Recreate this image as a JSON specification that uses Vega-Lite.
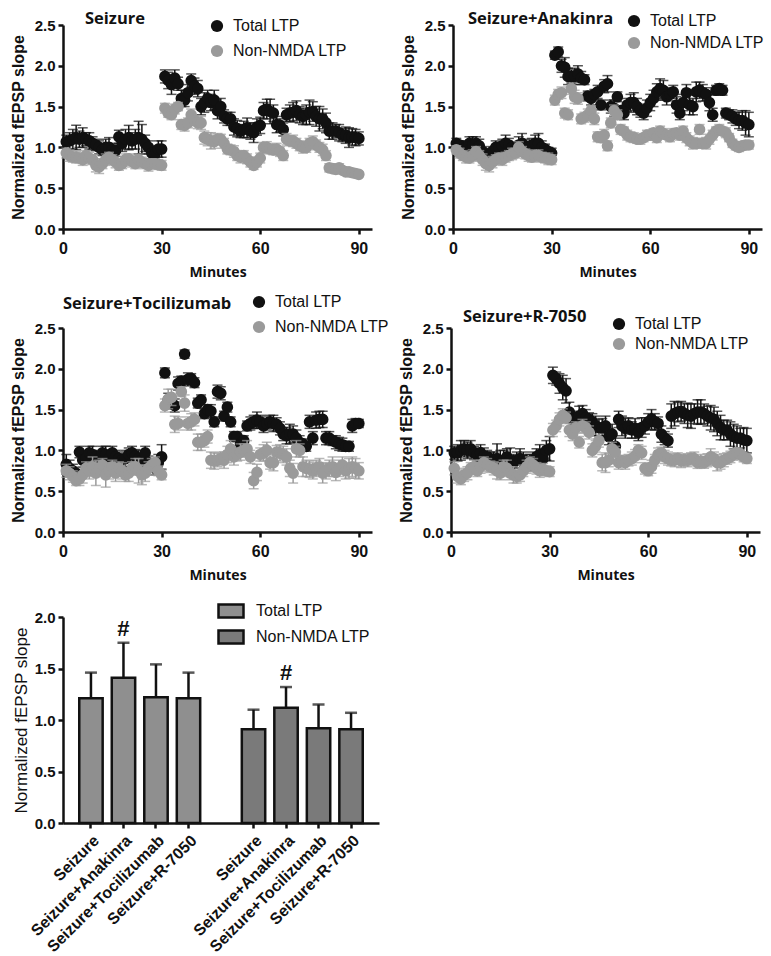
{
"$schema": "https://vega.github.io/schema/vega-lite/v6.json",
"padding": {"left": 10, "top": 10, "right": 0, "bottom": 0},
"background": "white",
"datasets": {
"p1": [
{"m":1,"t":1.07,"te":0.08,"n":0.93,"ne":0.06},{"m":2,"t":1.08,"te":0.10,"n":0.90,"ne":0.07},{"m":3,"t":1.10,"te":0.12,"n":0.88,"ne":0.06},{"m":4,"t":1.12,"te":0.15,"n":0.88,"ne":0.07},{"m":5,"t":1.10,"te":0.10,"n":0.87,"ne":0.06},{"m":6,"t":1.12,"te":0.12,"n":0.85,"ne":0.07},{"m":7,"t":1.10,"te":0.08,"n":0.90,"ne":0.06},{"m":8,"t":1.08,"te":0.10,"n":0.87,"ne":0.07},{"m":9,"t":1.05,"te":0.08,"n":0.85,"ne":0.06},{"m":10,"t":1.03,"te":0.07,"n":0.78,"ne":0.08},
{"m":11,"t":1.00,"te":0.08,"n":0.76,"ne":0.08},{"m":12,"t":0.97,"te":0.07,"n":0.80,"ne":0.06},{"m":13,"t":1.00,"te":0.10,"n":0.85,"ne":0.07},{"m":14,"t":1.00,"te":0.12,"n":0.88,"ne":0.06},{"m":15,"t":0.97,"te":0.08,"n":0.85,"ne":0.06},{"m":16,"t":0.96,"te":0.07,"n":0.82,"ne":0.07},{"m":17,"t":1.13,"te":0.08,"n":0.78,"ne":0.06},{"m":18,"t":1.05,"te":0.10,"n":0.80,"ne":0.06},{"m":19,"t":1.10,"te":0.12,"n":0.85,"ne":0.07},{"m":20,"t":1.12,"te":0.15,"n":0.86,"ne":0.06},
{"m":21,"t":1.08,"te":0.10,"n":0.83,"ne":0.07},{"m":22,"t":1.10,"te":0.12,"n":0.80,"ne":0.06},{"m":23,"t":1.12,"te":0.20,"n":0.85,"ne":0.07},{"m":24,"t":1.10,"te":0.18,"n":0.82,"ne":0.06},{"m":25,"t":1.05,"te":0.10,"n":0.80,"ne":0.06},{"m":26,"t":1.00,"te":0.08,"n":0.78,"ne":0.07},{"m":27,"t":0.93,"te":0.07,"n":0.80,"ne":0.06},{"m":28,"t":0.92,"te":0.08,"n":0.80,"ne":0.06},{"m":29,"t":0.98,"te":0.10,"n":0.79,"ne":0.06},{"m":30,"t":0.98,"te":0.10,"n":0.78,"ne":0.06},
{"m":31,"t":1.87,"te":0.08,"n":1.48,"ne":0.06},{"m":32,"t":1.82,"te":0.10,"n":1.42,"ne":0.05},{"m":33,"t":1.77,"te":0.12,"n":1.40,"ne":0.06},{"m":34,"t":1.85,"te":0.10,"n":1.47,"ne":0.06},{"m":35,"t":1.78,"te":0.08,"n":1.50,"ne":0.05},{"m":36,"t":1.60,"te":0.10,"n":1.28,"ne":0.06},{"m":37,"t":1.58,"te":0.08,"n":1.27,"ne":0.07},{"m":38,"t":1.67,"te":0.10,"n":1.30,"ne":0.06},{"m":39,"t":1.82,"te":0.08,"n":1.40,"ne":0.07},{"m":40,"t":1.75,"te":0.10,"n":1.33,"ne":0.06},
{"m":41,"t":1.72,"te":0.10,"n":1.30,"ne":0.07},{"m":42,"t":1.50,"te":0.10,"n":1.30,"ne":0.08},{"m":43,"t":1.55,"te":0.12,"n":1.12,"ne":0.08},{"m":44,"t":1.60,"te":0.10,"n":1.10,"ne":0.08},{"m":45,"t":1.55,"te":0.10,"n":1.08,"ne":0.10},{"m":46,"t":1.58,"te":0.12,"n":1.07,"ne":0.08},{"m":47,"t":1.45,"te":0.10,"n":1.10,"ne":0.07},{"m":48,"t":1.50,"te":0.10,"n":1.10,"ne":0.06},{"m":49,"t":1.38,"te":0.08,"n":1.05,"ne":0.06},{"m":50,"t":1.35,"te":0.08,"n":0.98,"ne":0.06},
{"m":51,"t":1.35,"te":0.08,"n":0.97,"ne":0.06},{"m":52,"t":1.25,"te":0.10,"n":0.95,"ne":0.07},{"m":53,"t":1.23,"te":0.10,"n":0.90,"ne":0.06},{"m":54,"t":1.20,"te":0.08,"n":0.88,"ne":0.07},{"m":55,"t":1.22,"te":0.10,"n":0.90,"ne":0.06},{"m":56,"t":1.24,"te":0.12,"n":0.86,"ne":0.06},{"m":57,"t":1.20,"te":0.10,"n":0.82,"ne":0.06},{"m":58,"t":1.18,"te":0.12,"n":0.78,"ne":0.05},{"m":59,"t":1.25,"te":0.10,"n":0.82,"ne":0.06},{"m":60,"t":1.27,"te":0.10,"n":0.87,"ne":0.06},
{"m":61,"t":1.45,"te":0.10,"n":1.00,"ne":0.06},{"m":62,"t":1.47,"te":0.12,"n":1.00,"ne":0.07},{"m":63,"t":1.44,"te":0.15,"n":0.98,"ne":0.06},{"m":64,"t":1.42,"te":0.10,"n":0.97,"ne":0.06},{"m":65,"t":1.28,"te":0.10,"n":0.98,"ne":0.07},{"m":66,"t":1.27,"te":0.08,"n":0.95,"ne":0.06},{"m":67,"t":1.22,"te":0.08,"n":0.90,"ne":0.06},{"m":68,"t":1.40,"te":0.08,"n":1.10,"ne":0.07},{"m":69,"t":1.42,"te":0.10,"n":1.08,"ne":0.06},{"m":70,"t":1.43,"te":0.12,"n":1.08,"ne":0.07},
{"m":71,"t":1.45,"te":0.12,"n":1.05,"ne":0.06},{"m":72,"t":1.40,"te":0.10,"n":1.02,"ne":0.06},{"m":73,"t":1.38,"te":0.10,"n":1.00,"ne":0.07},{"m":74,"t":1.40,"te":0.12,"n":1.00,"ne":0.06},{"m":75,"t":1.43,"te":0.15,"n":1.05,"ne":0.06},{"m":76,"t":1.44,"te":0.12,"n":1.07,"ne":0.07},{"m":77,"t":1.38,"te":0.12,"n":1.03,"ne":0.06},{"m":78,"t":1.35,"te":0.15,"n":1.00,"ne":0.06},{"m":79,"t":1.35,"te":0.12,"n":0.97,"ne":0.07},{"m":80,"t":1.30,"te":0.12,"n":0.90,"ne":0.06},
{"m":81,"t":1.20,"te":0.10,"n":0.75,"ne":0.05},{"m":82,"t":1.20,"te":0.10,"n":0.74,"ne":0.05},{"m":83,"t":1.20,"te":0.08,"n":0.73,"ne":0.05},{"m":84,"t":1.18,"te":0.10,"n":0.75,"ne":0.05},{"m":85,"t":1.15,"te":0.08,"n":0.72,"ne":0.04},{"m":86,"t":1.15,"te":0.10,"n":0.70,"ne":0.04},{"m":87,"t":1.12,"te":0.12,"n":0.70,"ne":0.04},{"m":88,"t":1.13,"te":0.10,"n":0.69,"ne":0.04},{"m":89,"t":1.12,"te":0.10,"n":0.68,"ne":0.03},{"m":90,"t":1.11,"te":0.08,"n":0.67,"ne":0.03}
],
"p2": [
{"m":1,"t":1.05,"te":0.06,"n":0.97,"ne":0.05},{"m":2,"t":1.03,"te":0.05,"n":0.93,"ne":0.06},{"m":3,"t":1.00,"te":0.06,"n":0.90,"ne":0.06},{"m":4,"t":1.00,"te":0.08,"n":0.88,"ne":0.07},{"m":5,"t":1.05,"te":0.08,"n":0.87,"ne":0.06},{"m":6,"t":1.03,"te":0.10,"n":0.90,"ne":0.07},{"m":7,"t":1.05,"te":0.08,"n":0.95,"ne":0.06},{"m":8,"t":1.02,"te":0.08,"n":0.90,"ne":0.06},{"m":9,"t":0.95,"te":0.06,"n":0.85,"ne":0.07},{"m":10,"t":0.92,"te":0.06,"n":0.80,"ne":0.08},
{"m":11,"t":0.90,"te":0.05,"n":0.78,"ne":0.08},{"m":12,"t":0.95,"te":0.06,"n":0.82,"ne":0.07},{"m":13,"t":1.00,"te":0.08,"n":0.85,"ne":0.06},{"m":14,"t":1.00,"te":0.06,"n":0.87,"ne":0.06},{"m":15,"t":1.02,"te":0.08,"n":0.85,"ne":0.07},{"m":16,"t":1.05,"te":0.10,"n":0.88,"ne":0.06},{"m":17,"t":1.03,"te":0.08,"n":0.90,"ne":0.06},{"m":18,"t":1.00,"te":0.06,"n":0.92,"ne":0.07},{"m":19,"t":0.98,"te":0.08,"n":0.93,"ne":0.06},{"m":20,"t":1.03,"te":0.10,"n":1.00,"ne":0.07},
{"m":21,"t":1.05,"te":0.12,"n":0.95,"ne":0.06},{"m":22,"t":1.02,"te":0.08,"n":0.92,"ne":0.06},{"m":23,"t":1.00,"te":0.06,"n":0.90,"ne":0.07},{"m":24,"t":1.03,"te":0.08,"n":0.88,"ne":0.06},{"m":25,"t":1.05,"te":0.10,"n":0.90,"ne":0.06},{"m":26,"t":1.05,"te":0.12,"n":0.90,"ne":0.07},{"m":27,"t":1.00,"te":0.08,"n":0.88,"ne":0.06},{"m":28,"t":0.98,"te":0.06,"n":0.87,"ne":0.06},{"m":29,"t":0.95,"te":0.05,"n":0.86,"ne":0.07},{"m":30,"t":0.93,"te":0.06,"n":0.85,"ne":0.06},
{"m":31,"t":2.13,"te":0.05,"n":1.58,"ne":0.06},{"m":32,"t":2.17,"te":0.06,"n":1.65,"ne":0.06},{"m":33,"t":2.00,"te":0.08,"n":1.67,"ne":0.07},{"m":34,"t":1.98,"te":0.12,"n":1.42,"ne":0.06},{"m":35,"t":1.87,"te":0.10,"n":1.40,"ne":0.06},{"m":36,"t":1.87,"te":0.08,"n":1.72,"ne":0.07},{"m":37,"t":1.87,"te":0.10,"n":1.62,"ne":0.08},{"m":38,"t":1.90,"te":0.10,"n":1.60,"ne":0.07},{"m":39,"t":1.85,"te":0.08,"n":1.35,"ne":0.06},{"m":40,"t":1.83,"te":0.06,"n":1.37,"ne":0.06},
{"m":41,"t":1.63,"te":0.06,"n":1.40,"ne":0.07},{"m":42,"t":1.60,"te":0.08,"n":1.45,"ne":0.06},{"m":43,"t":1.65,"te":0.06,"n":1.35,"ne":0.07},{"m":44,"t":1.68,"te":0.08,"n":1.13,"ne":0.06},{"m":45,"t":1.52,"te":0.06,"n":1.12,"ne":0.06},{"m":46,"t":1.75,"te":0.08,"n":1.15,"ne":0.07},{"m":47,"t":1.78,"te":0.10,"n":1.02,"ne":0.06},{"m":48,"t":1.50,"te":0.08,"n":1.30,"ne":0.06},{"m":49,"t":1.48,"te":0.10,"n":1.45,"ne":0.07},{"m":50,"t":1.62,"te":0.06,"n":1.40,"ne":0.06},
{"m":51,"t":1.45,"te":0.06,"n":1.22,"ne":0.06},{"m":52,"t":1.42,"te":0.08,"n":1.20,"ne":0.05},{"m":53,"t":1.52,"te":0.08,"n":1.15,"ne":0.06},{"m":54,"t":1.55,"te":0.10,"n":1.13,"ne":0.06},{"m":55,"t":1.55,"te":0.12,"n":1.12,"ne":0.06},{"m":56,"t":1.50,"te":0.10,"n":1.10,"ne":0.05},{"m":57,"t":1.45,"te":0.08,"n":1.10,"ne":0.06},{"m":58,"t":1.42,"te":0.08,"n":1.12,"ne":0.05},{"m":59,"t":1.48,"te":0.10,"n":1.15,"ne":0.06},{"m":60,"t":1.55,"te":0.10,"n":1.15,"ne":0.06},
{"m":61,"t":1.60,"te":0.10,"n":1.18,"ne":0.05},{"m":62,"t":1.68,"te":0.10,"n":1.12,"ne":0.06},{"m":63,"t":1.72,"te":0.12,"n":1.20,"ne":0.06},{"m":64,"t":1.70,"te":0.12,"n":1.17,"ne":0.06},{"m":65,"t":1.62,"te":0.10,"n":1.15,"ne":0.05},{"m":66,"t":1.65,"te":0.08,"n":1.13,"ne":0.06},{"m":67,"t":1.68,"te":0.08,"n":1.17,"ne":0.06},{"m":68,"t":1.52,"te":0.10,"n":1.18,"ne":0.05},{"m":69,"t":1.42,"te":0.08,"n":1.15,"ne":0.06},{"m":70,"t":1.55,"te":0.10,"n":1.20,"ne":0.06},
{"m":71,"t":1.67,"te":0.10,"n":1.12,"ne":0.06},{"m":72,"t":1.52,"te":0.12,"n":1.08,"ne":0.06},{"m":73,"t":1.50,"te":0.10,"n":1.05,"ne":0.07},{"m":74,"t":1.68,"te":0.12,"n":1.05,"ne":0.06},{"m":75,"t":1.70,"te":0.10,"n":1.22,"ne":0.06},{"m":76,"t":1.67,"te":0.10,"n":1.05,"ne":0.06},{"m":77,"t":1.65,"te":0.08,"n":1.05,"ne":0.07},{"m":78,"t":1.55,"te":0.10,"n":1.10,"ne":0.06},{"m":79,"t":1.40,"te":0.08,"n":1.15,"ne":0.06},{"m":80,"t":1.70,"te":0.06,"n":1.20,"ne":0.05},
{"m":81,"t":1.72,"te":0.06,"n":1.22,"ne":0.06},{"m":82,"t":1.70,"te":0.06,"n":1.20,"ne":0.05},{"m":83,"t":1.42,"te":0.06,"n":1.18,"ne":0.06},{"m":84,"t":1.40,"te":0.06,"n":1.12,"ne":0.05},{"m":85,"t":1.38,"te":0.08,"n":1.05,"ne":0.05},{"m":86,"t":1.35,"te":0.08,"n":1.02,"ne":0.05},{"m":87,"t":1.33,"te":0.10,"n":1.00,"ne":0.05},{"m":88,"t":1.33,"te":0.12,"n":1.02,"ne":0.05},{"m":89,"t":1.30,"te":0.15,"n":1.03,"ne":0.05},{"m":90,"t":1.28,"te":0.15,"n":1.03,"ne":0.05}
],
"p3": [
{"m":1,"t":0.83,"te":0.12,"n":0.75,"ne":0.08},{"m":2,"t":0.78,"te":0.10,"n":0.72,"ne":0.08},{"m":3,"t":0.75,"te":0.08,"n":0.68,"ne":0.07},{"m":4,"t":0.72,"te":0.07,"n":0.63,"ne":0.06},{"m":5,"t":0.98,"te":0.07,"n":0.65,"ne":0.08},{"m":6,"t":0.88,"te":0.08,"n":0.70,"ne":0.10},{"m":7,"t":0.90,"te":0.08,"n":0.78,"ne":0.08},{"m":8,"t":0.97,"te":0.08,"n":0.75,"ne":0.10},{"m":9,"t":0.95,"te":0.10,"n":0.80,"ne":0.12},{"m":10,"t":0.92,"te":0.08,"n":0.72,"ne":0.15},
{"m":11,"t":0.90,"te":0.08,"n":0.78,"ne":0.10},{"m":12,"t":0.97,"te":0.08,"n":0.82,"ne":0.08},{"m":13,"t":0.95,"te":0.10,"n":0.70,"ne":0.15},{"m":14,"t":0.90,"te":0.08,"n":0.75,"ne":0.10},{"m":15,"t":0.97,"te":0.08,"n":0.80,"ne":0.08},{"m":16,"t":0.92,"te":0.08,"n":0.72,"ne":0.10},{"m":17,"t":0.90,"te":0.08,"n":0.78,"ne":0.08},{"m":18,"t":0.88,"te":0.08,"n":0.75,"ne":0.10},{"m":19,"t":0.90,"te":0.10,"n":0.70,"ne":0.08},{"m":20,"t":0.95,"te":0.08,"n":0.72,"ne":0.10},
{"m":21,"t":0.97,"te":0.08,"n":0.78,"ne":0.08},{"m":22,"t":0.93,"te":0.08,"n":0.80,"ne":0.10},{"m":23,"t":0.90,"te":0.10,"n":0.75,"ne":0.15},{"m":24,"t":0.88,"te":0.08,"n":0.70,"ne":0.12},{"m":25,"t":0.97,"te":0.08,"n":0.72,"ne":0.10},{"m":26,"t":0.85,"te":0.08,"n":0.78,"ne":0.08},{"m":27,"t":0.80,"te":0.07,"n":0.82,"ne":0.08},{"m":28,"t":0.78,"te":0.08,"n":0.85,"ne":0.07},{"m":29,"t":0.85,"te":0.10,"n":0.75,"ne":0.06},{"m":30,"t":0.92,"te":0.15,"n":0.70,"ne":0.06},
{"m":31,"t":1.95,"te":0.06,"n":1.55,"ne":0.08},{"m":32,"t":1.62,"te":0.08,"n":1.63,"ne":0.12},{"m":33,"t":1.58,"te":0.07,"n":1.65,"ne":0.10},{"m":34,"t":1.55,"te":0.08,"n":1.32,"ne":0.10},{"m":35,"t":1.82,"te":0.08,"n":1.33,"ne":0.08},{"m":36,"t":1.85,"te":0.06,"n":1.72,"ne":0.06},{"m":37,"t":2.18,"te":0.05,"n":1.58,"ne":0.10},{"m":38,"t":1.87,"te":0.08,"n":1.33,"ne":0.08},{"m":39,"t":1.88,"te":0.06,"n":1.35,"ne":0.10},{"m":40,"t":1.83,"te":0.06,"n":1.38,"ne":0.08},
{"m":41,"t":1.58,"te":0.06,"n":1.10,"ne":0.10},{"m":42,"t":1.62,"te":0.06,"n":1.10,"ne":0.10},{"m":43,"t":1.45,"te":0.06,"n":1.12,"ne":0.08},{"m":44,"t":1.50,"te":0.06,"n":1.17,"ne":0.08},{"m":45,"t":1.48,"te":0.08,"n":0.88,"ne":0.10},{"m":46,"t":1.35,"te":0.06,"n":0.87,"ne":0.10},{"m":47,"t":1.72,"te":0.08,"n":0.88,"ne":0.08},{"m":48,"t":1.70,"te":0.08,"n":0.90,"ne":0.08},{"m":49,"t":1.42,"te":0.06,"n":0.88,"ne":0.10},{"m":50,"t":1.53,"te":0.06,"n":0.95,"ne":0.10},
{"m":51,"t":1.35,"te":0.06,"n":1.02,"ne":0.10},{"m":52,"t":1.17,"te":0.06,"n":0.92,"ne":0.10},{"m":53,"t":1.17,"te":0.06,"n":0.95,"ne":0.08},{"m":54,"t":1.08,"te":0.06,"n":0.98,"ne":0.10},{"m":55,"t":1.12,"te":0.06,"n":1.00,"ne":0.08},{"m":56,"t":1.30,"te":0.06,"n":1.02,"ne":0.10},{"m":57,"t":1.33,"te":0.08,"n":0.92,"ne":0.08},{"m":58,"t":1.35,"te":0.08,"n":0.63,"ne":0.10},{"m":59,"t":1.37,"te":0.10,"n":0.73,"ne":0.10},{"m":60,"t":1.35,"te":0.08,"n":0.95,"ne":0.08},
{"m":61,"t":1.30,"te":0.08,"n":0.97,"ne":0.10},{"m":62,"t":1.33,"te":0.08,"n":1.00,"ne":0.10},{"m":63,"t":1.35,"te":0.08,"n":0.85,"ne":0.08},{"m":64,"t":1.33,"te":0.10,"n":0.85,"ne":0.10},{"m":65,"t":1.32,"te":0.08,"n":0.98,"ne":0.08},{"m":66,"t":1.27,"te":0.08,"n":0.97,"ne":0.10},{"m":67,"t":1.20,"te":0.08,"n":0.95,"ne":0.10},{"m":68,"t":1.18,"te":0.10,"n":0.92,"ne":0.10},{"m":69,"t":1.20,"te":0.12,"n":0.78,"ne":0.10},{"m":70,"t":1.20,"te":0.10,"n":0.72,"ne":0.12},
{"m":71,"t":1.15,"te":0.10,"n":1.02,"ne":0.10},{"m":72,"t":1.10,"te":0.08,"n":1.00,"ne":0.08},{"m":73,"t":1.08,"te":0.06,"n":0.80,"ne":0.12},{"m":74,"t":1.05,"te":0.06,"n":0.78,"ne":0.10},{"m":75,"t":1.35,"te":0.08,"n":0.77,"ne":0.10},{"m":76,"t":1.15,"te":0.08,"n":0.75,"ne":0.10},{"m":77,"t":1.37,"te":0.10,"n":0.78,"ne":0.10},{"m":78,"t":1.38,"te":0.10,"n":0.80,"ne":0.10},{"m":79,"t":1.38,"te":0.10,"n":0.72,"ne":0.12},{"m":80,"t":1.15,"te":0.08,"n":0.75,"ne":0.10},
{"m":81,"t":1.15,"te":0.08,"n":0.78,"ne":0.10},{"m":82,"t":1.12,"te":0.06,"n":0.80,"ne":0.12},{"m":83,"t":1.10,"te":0.08,"n":0.73,"ne":0.10},{"m":84,"t":1.08,"te":0.08,"n":0.78,"ne":0.10},{"m":85,"t":1.07,"te":0.08,"n":0.82,"ne":0.10},{"m":86,"t":1.05,"te":0.06,"n":0.75,"ne":0.10},{"m":87,"t":1.05,"te":0.06,"n":0.78,"ne":0.12},{"m":88,"t":1.30,"te":0.08,"n":0.80,"ne":0.12},{"m":89,"t":1.33,"te":0.06,"n":0.78,"ne":0.12},{"m":90,"t":1.33,"te":0.05,"n":0.75,"ne":0.10}
],
"p4": [
{"m":1,"t":0.97,"te":0.08,"n":0.78,"ne":0.08},{"m":2,"t":0.97,"te":0.10,"n":0.68,"ne":0.08},{"m":3,"t":1.00,"te":0.12,"n":0.65,"ne":0.07},{"m":4,"t":1.02,"te":0.10,"n":0.70,"ne":0.08},{"m":5,"t":1.00,"te":0.10,"n":0.72,"ne":0.08},{"m":6,"t":1.02,"te":0.10,"n":0.78,"ne":0.07},{"m":7,"t":0.97,"te":0.08,"n":0.80,"ne":0.08},{"m":8,"t":0.95,"te":0.08,"n":0.75,"ne":0.07},{"m":9,"t":0.97,"te":0.10,"n":0.80,"ne":0.08},{"m":10,"t":0.93,"te":0.10,"n":0.85,"ne":0.07},
{"m":11,"t":0.92,"te":0.08,"n":0.82,"ne":0.08},{"m":12,"t":0.90,"te":0.08,"n":0.80,"ne":0.07},{"m":13,"t":0.88,"te":0.10,"n":0.78,"ne":0.08},{"m":14,"t":0.90,"te":0.18,"n":0.75,"ne":0.10},{"m":15,"t":0.85,"te":0.15,"n":0.72,"ne":0.08},{"m":16,"t":0.88,"te":0.12,"n":0.80,"ne":0.08},{"m":17,"t":0.92,"te":0.10,"n":0.78,"ne":0.10},{"m":18,"t":0.88,"te":0.15,"n":0.72,"ne":0.08},{"m":19,"t":0.85,"te":0.10,"n":0.70,"ne":0.10},{"m":20,"t":0.88,"te":0.10,"n":0.68,"ne":0.08},
{"m":21,"t":0.90,"te":0.12,"n":0.70,"ne":0.08},{"m":22,"t":0.88,"te":0.10,"n":0.75,"ne":0.07},{"m":23,"t":0.87,"te":0.08,"n":0.80,"ne":0.08},{"m":24,"t":0.85,"te":0.10,"n":0.85,"ne":0.07},{"m":25,"t":0.88,"te":0.10,"n":0.82,"ne":0.08},{"m":26,"t":0.92,"te":0.10,"n":0.78,"ne":0.07},{"m":27,"t":0.95,"te":0.12,"n":0.75,"ne":0.08},{"m":28,"t":0.90,"te":0.10,"n":0.77,"ne":0.07},{"m":29,"t":1.00,"te":0.12,"n":0.75,"ne":0.06},{"m":30,"t":1.02,"te":0.15,"n":0.74,"ne":0.06},
{"m":31,"t":1.92,"te":0.10,"n":1.25,"ne":0.08},{"m":32,"t":1.88,"te":0.08,"n":1.30,"ne":0.07},{"m":33,"t":1.82,"te":0.12,"n":1.38,"ne":0.08},{"m":34,"t":1.77,"te":0.15,"n":1.43,"ne":0.08},{"m":35,"t":1.73,"te":0.15,"n":1.40,"ne":0.07},{"m":36,"t":1.47,"te":0.12,"n":1.25,"ne":0.08},{"m":37,"t":1.38,"te":0.10,"n":1.20,"ne":0.08},{"m":38,"t":1.37,"te":0.08,"n":1.28,"ne":0.07},{"m":39,"t":1.42,"te":0.12,"n":1.10,"ne":0.07},{"m":40,"t":1.45,"te":0.10,"n":1.30,"ne":0.08},
{"m":41,"t":1.40,"te":0.10,"n":1.28,"ne":0.07},{"m":42,"t":1.38,"te":0.08,"n":1.22,"ne":0.08},{"m":43,"t":1.35,"te":0.10,"n":1.00,"ne":0.08},{"m":44,"t":1.30,"te":0.12,"n":1.05,"ne":0.07},{"m":45,"t":1.28,"te":0.10,"n":1.12,"ne":0.08},{"m":46,"t":1.27,"te":0.12,"n":0.85,"ne":0.10},{"m":47,"t":1.30,"te":0.12,"n":0.85,"ne":0.12},{"m":48,"t":1.17,"te":0.10,"n":0.88,"ne":0.08},{"m":49,"t":1.20,"te":0.12,"n":1.02,"ne":0.08},{"m":50,"t":1.05,"te":0.10,"n":0.98,"ne":0.07},
{"m":51,"t":1.38,"te":0.10,"n":0.85,"ne":0.08},{"m":52,"t":1.30,"te":0.12,"n":0.87,"ne":0.07},{"m":53,"t":1.27,"te":0.12,"n":0.85,"ne":0.08},{"m":54,"t":1.30,"te":0.10,"n":0.88,"ne":0.07},{"m":55,"t":1.25,"te":0.10,"n":0.90,"ne":0.08},{"m":56,"t":1.27,"te":0.12,"n":0.93,"ne":0.08},{"m":57,"t":1.22,"te":0.10,"n":1.00,"ne":0.07},{"m":58,"t":1.28,"te":0.12,"n":0.97,"ne":0.08},{"m":59,"t":1.30,"te":0.10,"n":0.78,"ne":0.07},{"m":60,"t":1.35,"te":0.10,"n":0.75,"ne":0.06},
{"m":61,"t":1.38,"te":0.12,"n":0.80,"ne":0.08},{"m":62,"t":1.35,"te":0.10,"n":0.88,"ne":0.07},{"m":63,"t":1.33,"te":0.08,"n":0.95,"ne":0.08},{"m":64,"t":1.20,"te":0.10,"n":0.97,"ne":0.07},{"m":65,"t":1.15,"te":0.08,"n":0.92,"ne":0.08},{"m":66,"t":1.12,"te":0.08,"n":0.90,"ne":0.08},{"m":67,"t":1.42,"te":0.15,"n":0.88,"ne":0.07},{"m":68,"t":1.45,"te":0.15,"n":0.88,"ne":0.08},{"m":69,"t":1.47,"te":0.12,"n":0.90,"ne":0.07},{"m":70,"t":1.48,"te":0.12,"n":0.87,"ne":0.08},
{"m":71,"t":1.45,"te":0.12,"n":0.88,"ne":0.07},{"m":72,"t":1.43,"te":0.15,"n":0.88,"ne":0.08},{"m":73,"t":1.42,"te":0.15,"n":0.90,"ne":0.07},{"m":74,"t":1.45,"te":0.12,"n":0.90,"ne":0.08},{"m":75,"t":1.47,"te":0.15,"n":0.85,"ne":0.07},{"m":76,"t":1.47,"te":0.15,"n":0.87,"ne":0.08},{"m":77,"t":1.45,"te":0.12,"n":0.85,"ne":0.07},{"m":78,"t":1.42,"te":0.12,"n":0.88,"ne":0.08},{"m":79,"t":1.40,"te":0.15,"n":0.92,"ne":0.10},{"m":80,"t":1.38,"te":0.15,"n":0.90,"ne":0.08},
{"m":81,"t":1.33,"te":0.15,"n":0.85,"ne":0.10},{"m":82,"t":1.28,"te":0.15,"n":0.85,"ne":0.08},{"m":83,"t":1.25,"te":0.12,"n":0.88,"ne":0.08},{"m":84,"t":1.25,"te":0.12,"n":0.90,"ne":0.07},{"m":85,"t":1.20,"te":0.15,"n":0.92,"ne":0.07},{"m":86,"t":1.17,"te":0.15,"n":0.95,"ne":0.07},{"m":87,"t":1.15,"te":0.15,"n":0.97,"ne":0.06},{"m":88,"t":1.15,"te":0.12,"n":0.95,"ne":0.06},{"m":89,"t":1.13,"te":0.15,"n":0.92,"ne":0.06},{"m":90,"t":1.12,"te":0.15,"n":0.90,"ne":0.06}
],
"bars": [
{"k":"T:Seizure","g":"Total LTP","v":1.21,"hi":1.46,"sig":""},
{"k":"T:Seizure+Anakinra","g":"Total LTP","v":1.41,"hi":1.75,"sig":"#"},
{"k":"T:Seizure+Tocilizumab","g":"Total LTP","v":1.22,"hi":1.54,"sig":""},
{"k":"T:Seizure+R-7050","g":"Total LTP","v":1.21,"hi":1.46,"sig":""},
{"k":"N:Seizure","g":"Non-NMDA LTP","v":0.91,"hi":1.10,"sig":""},
{"k":"N:Seizure+Anakinra","g":"Non-NMDA LTP","v":1.12,"hi":1.32,"sig":"#"},
{"k":"N:Seizure+Tocilizumab","g":"Non-NMDA LTP","v":0.92,"hi":1.15,"sig":""},
{"k":"N:Seizure+R-7050","g":"Non-NMDA LTP","v":0.91,"hi":1.07,"sig":""}
]
},
"vconcat": [
{"hconcat": [
{"width": 309, "height": 204, "data": {"name": "p1"},
 "title": {"text": "Seizure", "dx": 22, "offset": 0, "dy": 9},
 "encoding": {"x": {"field": "m", "type": "quantitative", "scale": {"domain": [0, 94], "nice": false}, "axis": {"values": [0, 30, 60, 90], "title": "Minutes"}}},
 "layer": [
  {"mark": {"type": "errorbar", "color": "#111111", "thickness": 1.5, "ticks": {"size": 10, "thickness": 1.5}}, "encoding": {"y": {"field": "t", "type": "quantitative", "scale": {"domain": [0, 2.5], "nice": false}, "axis": {"values": [0, 0.5, 1, 1.5, 2, 2.5], "format": ".1f"}, "title": "Normalized fEPSP slope"}, "yError": {"field": "te"}}},
  {"mark": {"type": "point", "filled": true, "size": 135, "opacity": 1}, "encoding": {"y": {"field": "t", "type": "quantitative", "title": "Normalized fEPSP slope"}, "color": {"datum": "Total LTP", "type": "nominal", "scale": {"domain": ["Total LTP", "Non-NMDA LTP"], "range": ["#111111", "#9a9a9a"]}, "legend": {"orient": "none", "legendX": 146, "legendY": -7, "title": null, "rowPadding": 9}}}},
  {"mark": {"type": "errorbar", "color": "#9a9a9a", "thickness": 1.5, "ticks": {"size": 10, "thickness": 1.5}}, "encoding": {"y": {"field": "n", "type": "quantitative", "title": "Normalized fEPSP slope"}, "yError": {"field": "ne"}}},
  {"mark": {"type": "point", "filled": true, "size": 135, "opacity": 1}, "encoding": {"y": {"field": "n", "type": "quantitative", "title": "Normalized fEPSP slope"}, "color": {"datum": "Non-NMDA LTP", "type": "nominal"}}}
 ]
},
{"width": 309, "height": 204, "data": {"name": "p2"},
 "title": {"text": "Seizure+Anakinra", "dx": 15, "offset": 0, "dy": 14},
 "encoding": {"x": {"field": "m", "type": "quantitative", "scale": {"domain": [0, 94], "nice": false}, "axis": {"values": [0, 30, 60, 90], "title": "Minutes"}}},
 "layer": [
  {"mark": {"type": "errorbar", "color": "#111111", "thickness": 1.5, "ticks": {"size": 10, "thickness": 1.5}}, "encoding": {"y": {"field": "t", "type": "quantitative", "scale": {"domain": [0, 2.5], "nice": false}, "axis": {"values": [0, 0.5, 1, 1.5, 2, 2.5], "format": ".1f"}, "title": "Normalized fEPSP slope"}, "yError": {"field": "te"}}},
  {"mark": {"type": "point", "filled": true, "size": 135, "opacity": 1}, "encoding": {"y": {"field": "t", "type": "quantitative", "title": "Normalized fEPSP slope"}, "color": {"datum": "Total LTP", "type": "nominal", "scale": {"domain": ["Total LTP", "Non-NMDA LTP"], "range": ["#111111", "#9a9a9a"]}, "legend": {"orient": "none", "legendX": 173, "legendY": -12, "title": null, "rowPadding": 6}}}},
  {"mark": {"type": "errorbar", "color": "#9a9a9a", "thickness": 1.5, "ticks": {"size": 10, "thickness": 1.5}}, "encoding": {"y": {"field": "n", "type": "quantitative", "title": "Normalized fEPSP slope"}, "yError": {"field": "ne"}}},
  {"mark": {"type": "point", "filled": true, "size": 135, "opacity": 1}, "encoding": {"y": {"field": "n", "type": "quantitative", "title": "Normalized fEPSP slope"}, "color": {"datum": "Non-NMDA LTP", "type": "nominal"}}}
 ]
}
], "spacing": 28, "resolve": {"scale": {"color": "independent"}, "legend": {"color": "independent"}}},
{"hconcat": [
{"width": 309, "height": 204, "data": {"name": "p3"},
 "title": {"text": "Seizure+Tocilizumab", "dx": 0, "offset": 0, "dy": 18},
 "encoding": {"x": {"field": "m", "type": "quantitative", "scale": {"domain": [0, 94], "nice": false}, "axis": {"values": [0, 30, 60, 90], "title": "Minutes"}}},
 "layer": [
  {"mark": {"type": "errorbar", "color": "#111111", "thickness": 1.5, "ticks": {"size": 10, "thickness": 1.5}}, "encoding": {"y": {"field": "t", "type": "quantitative", "scale": {"domain": [0, 2.5], "nice": false}, "axis": {"values": [0, 0.5, 1, 1.5, 2, 2.5], "format": ".1f"}, "title": "Normalized fEPSP slope"}, "yError": {"field": "te"}}},
  {"mark": {"type": "point", "filled": true, "size": 135, "opacity": 1}, "encoding": {"y": {"field": "t", "type": "quantitative", "title": "Normalized fEPSP slope"}, "color": {"datum": "Total LTP", "type": "nominal", "scale": {"domain": ["Total LTP", "Non-NMDA LTP"], "range": ["#111111", "#9a9a9a"]}, "legend": {"orient": "none", "legendX": 188, "legendY": -34, "title": null, "rowPadding": 9}}}},
  {"mark": {"type": "errorbar", "color": "#9a9a9a", "thickness": 1.5, "ticks": {"size": 10, "thickness": 1.5}}, "encoding": {"y": {"field": "n", "type": "quantitative", "title": "Normalized fEPSP slope"}, "yError": {"field": "ne"}}},
  {"mark": {"type": "point", "filled": true, "size": 135, "opacity": 1}, "encoding": {"y": {"field": "n", "type": "quantitative", "title": "Normalized fEPSP slope"}, "color": {"datum": "Non-NMDA LTP", "type": "nominal"}}}
 ]
},
{"width": 309, "height": 204, "data": {"name": "p4"},
 "title": {"text": "Seizure+R-7050", "dx": 12, "offset": 0, "dy": 9},
 "encoding": {"x": {"field": "m", "type": "quantitative", "scale": {"domain": [0, 94], "nice": false}, "axis": {"values": [0, 30, 60, 90], "title": "Minutes"}}},
 "layer": [
  {"mark": {"type": "errorbar", "color": "#111111", "thickness": 1.5, "ticks": {"size": 10, "thickness": 1.5}}, "encoding": {"y": {"field": "t", "type": "quantitative", "scale": {"domain": [0, 2.5], "nice": false}, "axis": {"values": [0, 0.5, 1, 1.5, 2, 2.5], "format": ".1f"}, "title": "Normalized fEPSP slope"}, "yError": {"field": "te"}}},
  {"mark": {"type": "point", "filled": true, "size": 135, "opacity": 1}, "encoding": {"y": {"field": "t", "type": "quantitative", "title": "Normalized fEPSP slope"}, "color": {"datum": "Total LTP", "type": "nominal", "scale": {"domain": ["Total LTP", "Non-NMDA LTP"], "range": ["#111111", "#9a9a9a"]}, "legend": {"orient": "none", "legendX": 160, "legendY": -12, "title": null, "rowPadding": 4}}}},
  {"mark": {"type": "errorbar", "color": "#9a9a9a", "thickness": 1.5, "ticks": {"size": 10, "thickness": 1.5}}, "encoding": {"y": {"field": "n", "type": "quantitative", "title": "Normalized fEPSP slope"}, "yError": {"field": "ne"}}},
  {"mark": {"type": "point", "filled": true, "size": 135, "opacity": 1}, "encoding": {"y": {"field": "n", "type": "quantitative", "title": "Normalized fEPSP slope"}, "color": {"datum": "Non-NMDA LTP", "type": "nominal"}}}
 ]
}
], "spacing": 8, "resolve": {"scale": {"color": "independent"}, "legend": {"color": "independent"}}},
{"width": 316, "height": 206, "data": {"name": "bars"},
 "encoding": {"x": {"field": "k", "type": "nominal", "sort": null,
   "scale": {"domain": ["T:Seizure", "T:Seizure+Anakinra", "T:Seizure+Tocilizumab", "T:Seizure+R-7050", "gap", "N:Seizure", "N:Seizure+Anakinra", "N:Seizure+Tocilizumab", "N:Seizure+R-7050"], "paddingInner": 0.28, "paddingOuter": 0.5},
   "axis": {"title": null, "labelAngle": -45, "labelFontSize": 16, "labelPadding": 4, "labelExpr": "datum.value == 'gap' ? '' : split(datum.value, ':')[1]", "tickOpacity": {"condition": {"test": "datum.value == 'gap'", "value": 0}, "value": 1}}}},
 "layer": [
  {"mark": {"type": "bar", "stroke": "#111111", "strokeWidth": 2.5},
   "encoding": {"y": {"field": "v", "type": "quantitative", "scale": {"domain": [0, 2], "nice": false}, "axis": {"values": [0, 0.5, 1, 1.5, 2], "format": ".1f", "titleFontWeight": "normal", "titleFontSize": 17, "titlePadding": 4}, "title": "Normalized fEPSP slope"},
     "fill": {"field": "g", "type": "nominal", "scale": {"domain": ["Total LTP", "Non-NMDA LTP"], "range": ["#8f8f8f", "#7a7a7a"]},
       "legend": {"orient": "none", "legendX": 154, "legendY": -20, "title": null, "rowPadding": -5, "symbolType": "M-1,-0.52H1V0.52H-1Z", "symbolSize": 625, "symbolStrokeColor": "#111111", "symbolStrokeWidth": 2.5, "labelOffset": 11}}}},
  {"mark": {"type": "rule", "color": "#111111", "strokeWidth": 2.5}, "encoding": {"y": {"field": "v", "type": "quantitative", "title": "Normalized fEPSP slope"}, "y2": {"field": "hi"}}},
  {"mark": {"type": "tick", "color": "#111111", "size": 12, "thickness": 2.5}, "encoding": {"y": {"field": "hi", "type": "quantitative", "title": "Normalized fEPSP slope"}}},
  {"mark": {"type": "text", "dy": -14, "fontSize": 22, "fontWeight": "bold", "baseline": "middle", "color": "#111111"}, "encoding": {"y": {"field": "hi", "type": "quantitative", "title": "Normalized fEPSP slope"}, "text": {"field": "sig"}}}
 ]
}
],
"spacing": 15,
"resolve": {"scale": {"color": "independent", "fill": "independent"}, "legend": {"color": "independent", "fill": "independent"}},
"config": {
 "font": "Liberation Sans",
 "view": {"stroke": null},
 "axis": {"grid": false, "domainColor": "#111111", "domainWidth": 2.5, "tickColor": "#111111", "tickWidth": 2.5, "tickSize": 5, "labelFont": "Liberation Sans", "labelFontWeight": "bold", "labelFontSize": 15, "labelColor": "#111111", "titleFont": "Liberation Sans", "titleFontWeight": "bold", "titleFontSize": 16, "titleColor": "#111111", "labelFlush": false},
 "axisX": {"titleFont": "Open Sans", "titleFontSize": 14, "titlePadding": 9, "labelPadding": 6, "labelFontSize": 16},
 "axisY": {"titlePadding": 8, "labelPadding": 3},
 "title": {"font": "Open Sans", "fontSize": 16.5, "fontWeight": "bold", "anchor": "start", "color": "#111111", "frame": "group"},
 "legend": {"labelFont": "Liberation Sans", "labelFontSize": 16, "labelColor": "#111111", "symbolSize": 150, "padding": 0, "labelOffset": 8, "symbolStrokeWidth": 0, "symbolType": "circle"}
}
}
